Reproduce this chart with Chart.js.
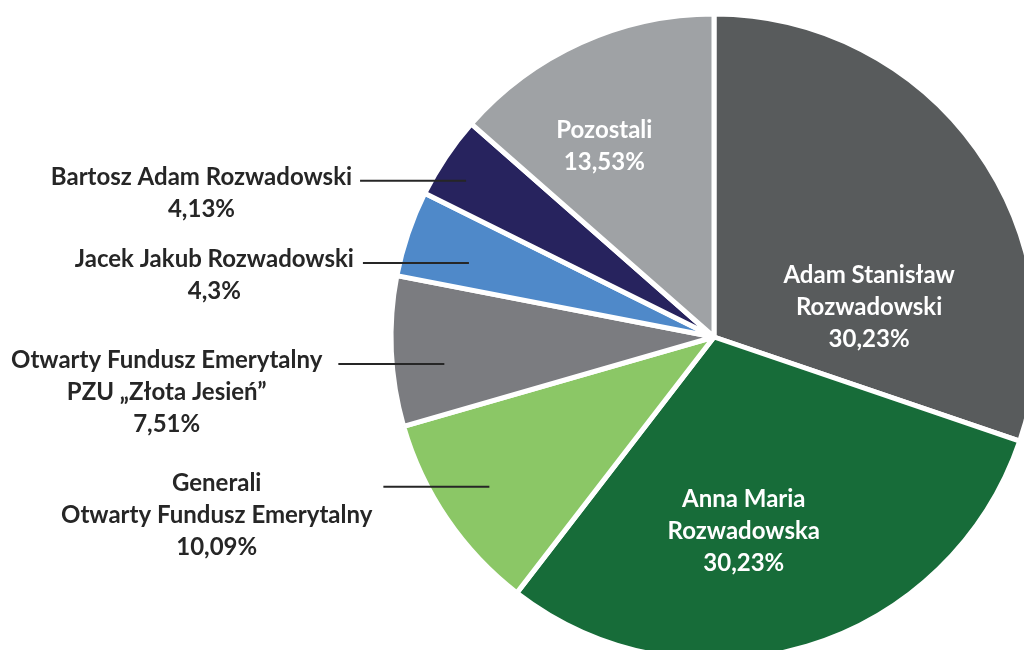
<!DOCTYPE html>
<html>
<head>
<meta charset="utf-8">
<script src="https://cdn.jsdelivr.net/npm/chart.js@4.4.0/dist/chart.umd.min.js"></script>
<style>
  html, body { margin: 0; padding: 0; background: #ffffff; overflow: hidden; width: 1024px; height: 650px; }
  #wrap { position: absolute; left: 0; top: 0; width: 1428px; height: 674px; }
</style>
</head>
<body>
<div id="wrap"><canvas id="c" width="1428" height="674"></canvas></div>
<script>
// ---- data ----
const categories = [
  ["Adam Stanisław", "Rozwadowski"],
  ["Anna Maria", "Rozwadowska"],
  ["Generali", "Otwarty Fundusz Emerytalny"],
  ["Otwarty Fundusz Emerytalny", "PZU „Złota Jesień”"],
  ["Jacek Jakub Rozwadowski"],
  ["Bartosz Adam Rozwadowski"],
  ["Pozostali"]
];
const shares = [30.23, 30.23, 10.09, 7.51, 4.3, 4.13, 13.53];
const shareLabels = ["30,23%", "30,23%", "10,09%", "7,51%", "4,3%", "4,13%", "13,53%"];

// ---- styling ----
const colors = ["#585b5c", "#176c39", "#8bc766", "#7b7c80", "#4f89c9", "#27235e", "#9fa2a5"];
// label placement style: inside (white, polar from centre) or outside (leader line)
const labelStyle = [
  { inside: true, deg: 79, r: 158 },
  { inside: true, deg: 171.3, r: 197 },
  { inside: false, deg: 236.3, r: 270, gap: 11 },
  { inside: false, deg: 264.3, r: 271, gap: 16 },
  { inside: false, deg: 286.8, r: 256, gap: 9 },
  { inside: false, deg: 302.2, r: 293, gap: 8 },
  { inside: true, deg: 330.1, r: 220 }
];
const FONT = "bold 24px Lato, 'Noto Sans', sans-serif";
const LINE_H = 32;
const LEADER_LEN = 106;

const labelPlugin = {
  id: 'sliceLabels',
  afterDatasetsDraw(chart) {
    const ctx = chart.ctx;
    const meta = chart.getDatasetMeta(0);
    ctx.save();
    ctx.font = FONT;
    ctx.textAlign = 'center';
    ctx.textBaseline = 'middle';
    meta.data.forEach((arc, i) => {
      const st = labelStyle[i];
      const a = st.deg * Math.PI / 180 - Math.PI / 2;
      const px = arc.x + st.r * Math.cos(a);
      const py = arc.y + st.r * Math.sin(a);
      const lines = categories[i].concat([shareLabels[i]]);
      if (st.inside) {
        ctx.fillStyle = '#ffffff';
        const y0 = py - (lines.length - 1) * LINE_H / 2;
        lines.forEach((t, k) => ctx.fillText(t, px, y0 + k * LINE_H));
      } else {
        const x0 = px - LEADER_LEN;
        ctx.strokeStyle = '#262626';
        ctx.lineWidth = 2;
        ctx.beginPath();
        ctx.moveTo(x0, py);
        ctx.lineTo(px, py);
        ctx.stroke();
        const maxW = Math.max(...lines.map(t => ctx.measureText(t).width));
        const cx = x0 - st.gap - maxW / 2;
        const y0 = py - 4;
        ctx.fillStyle = '#262626';
        lines.forEach((t, k) => ctx.fillText(t, cx, y0 + k * LINE_H));
      }
    });
    ctx.restore();
  }
};

new Chart(document.getElementById('c'), {
  type: 'pie',
  data: {
    labels: categories.map(c => c.join(' ')),
    datasets: [{
      data: shares,
      backgroundColor: colors,
      borderColor: '#ffffff',
      borderWidth: 5
    }]
  },
  options: {
    responsive: false,
    animation: false,
    devicePixelRatio: 1,
    radius: 323,
    layout: { padding: 0 },
    plugins: { legend: { display: false }, tooltip: { enabled: false } }
  },
  plugins: [labelPlugin]
});
</script>
</body>
</html>
